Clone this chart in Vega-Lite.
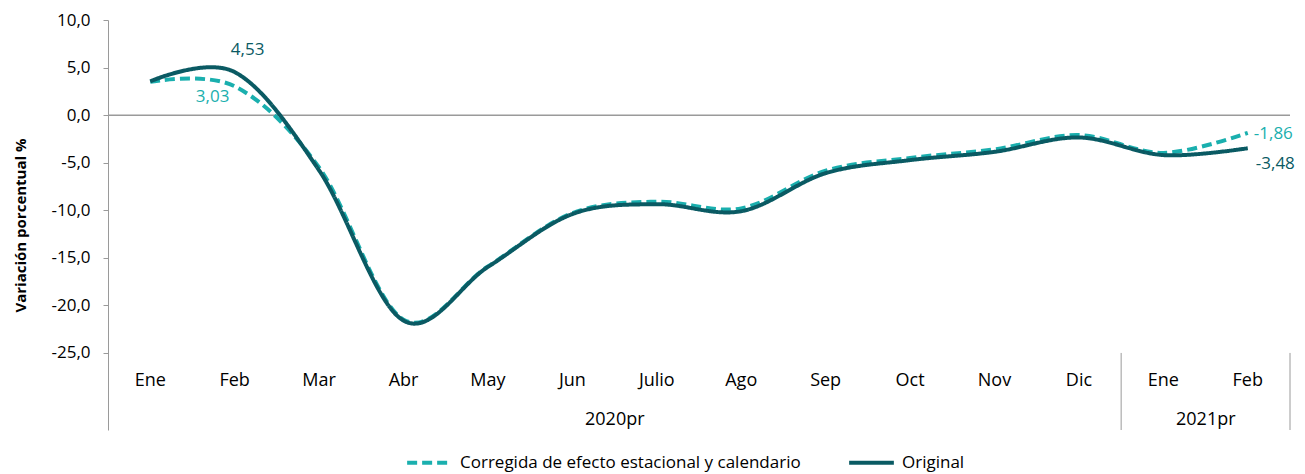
{
  "$schema": "https://vega.github.io/schema/vega-lite/v6.json",
  "width": 1182,
  "height": 410,
  "autosize": "none",
  "padding": {"left": 108, "top": 20, "right": 15, "bottom": 44},
  "config": {
    "view": {"stroke": null},
    "font": "Open Sans"
  },
  "resolve": {"axis": {"y": "independent", "x": "independent"}},
  "data": {
    "values": [
      {"idx": 1, "month": "Ene", "year": "2020pr", "serie": "Corregida de efecto estacional y calendario", "value": 3.5},
      {"idx": 2, "month": "Feb", "year": "2020pr", "serie": "Corregida de efecto estacional y calendario", "value": 3.03},
      {"idx": 3, "month": "Mar", "year": "2020pr", "serie": "Corregida de efecto estacional y calendario", "value": -5.5},
      {"idx": 4, "month": "Abr", "year": "2020pr", "serie": "Corregida de efecto estacional y calendario", "value": -21.5},
      {"idx": 5, "month": "May", "year": "2020pr", "serie": "Corregida de efecto estacional y calendario", "value": -15.9},
      {"idx": 6, "month": "Jun", "year": "2020pr", "serie": "Corregida de efecto estacional y calendario", "value": -10.3},
      {"idx": 7, "month": "Julio", "year": "2020pr", "serie": "Corregida de efecto estacional y calendario", "value": -9.1},
      {"idx": 8, "month": "Ago", "year": "2020pr", "serie": "Corregida de efecto estacional y calendario", "value": -9.8},
      {"idx": 9, "month": "Sep", "year": "2020pr", "serie": "Corregida de efecto estacional y calendario", "value": -5.85},
      {"idx": 10, "month": "Oct", "year": "2020pr", "serie": "Corregida de efecto estacional y calendario", "value": -4.5},
      {"idx": 11, "month": "Nov", "year": "2020pr", "serie": "Corregida de efecto estacional y calendario", "value": -3.6},
      {"idx": 12, "month": "Dic", "year": "2020pr", "serie": "Corregida de efecto estacional y calendario", "value": -2.1},
      {"idx": 13, "month": "Ene", "year": "2021pr", "serie": "Corregida de efecto estacional y calendario", "value": -3.97},
      {"idx": 14, "month": "Feb", "year": "2021pr", "serie": "Corregida de efecto estacional y calendario", "value": -1.86},
      {"idx": 1, "month": "Ene", "year": "2020pr", "serie": "Original", "value": 3.55},
      {"idx": 2, "month": "Feb", "year": "2020pr", "serie": "Original", "value": 4.53},
      {"idx": 3, "month": "Mar", "year": "2020pr", "serie": "Original", "value": -5.8},
      {"idx": 4, "month": "Abr", "year": "2020pr", "serie": "Original", "value": -21.6},
      {"idx": 5, "month": "May", "year": "2020pr", "serie": "Original", "value": -15.95},
      {"idx": 6, "month": "Jun", "year": "2020pr", "serie": "Original", "value": -10.4},
      {"idx": 7, "month": "Julio", "year": "2020pr", "serie": "Original", "value": -9.36},
      {"idx": 8, "month": "Ago", "year": "2020pr", "serie": "Original", "value": -10.1},
      {"idx": 9, "month": "Sep", "year": "2020pr", "serie": "Original", "value": -6.1},
      {"idx": 10, "month": "Oct", "year": "2020pr", "serie": "Original", "value": -4.73},
      {"idx": 11, "month": "Nov", "year": "2020pr", "serie": "Original", "value": -3.86},
      {"idx": 12, "month": "Dic", "year": "2020pr", "serie": "Original", "value": -2.35},
      {"idx": 13, "month": "Ene", "year": "2021pr", "serie": "Original", "value": -4.2},
      {"idx": 14, "month": "Feb", "year": "2021pr", "serie": "Original", "value": -3.48}
    ]
  },
  "layer": [
    {
      "data": {"values": [{"zero": 0}]},
      "mark": {"type": "rule", "color": "#9a9a9a", "strokeWidth": 1.5},
      "encoding": {"y": {"field": "zero", "type": "quantitative", "axis": null}}
    },
    {
      "data": {"values": [{"boundary": 12.5, "top": -25, "bottom": -33.1}, {"boundary": 14.5, "top": -25, "bottom": -33.1}]},
      "mark": {"type": "rule", "color": "#9a9a9a", "strokeWidth": 1},
      "encoding": {
        "x": {"field": "boundary", "type": "quantitative", "axis": null},
        "y": {"field": "top", "type": "quantitative", "axis": null},
        "y2": {"field": "bottom"}
      }
    },
    {
      "mark": {"type": "line", "interpolate": "cardinal", "strokeWidth": 4},
      "encoding": {
        "x": {"field": "idx", "type": "quantitative", "scale": {"domain": [0.5, 14.5], "nice": false, "zero": false}, "axis": null},
        "y": {
          "field": "value", "type": "quantitative",
          "scale": {"domain": [-33.1, 10], "nice": false, "zero": false},
          "axis": {
            "values": [-25, -20, -15, -10, -5, 0, 5, 10],
            "labelExpr": "replace(replace(format(datum.value, '.1f'), '.', ','), '−', '-')",
            "grid": false,
            "domainColor": "#9a9a9a",
            "tickColor": "#9a9a9a",
            "tickSize": 5,
            "labelPadding": 13,
            "labelFontSize": 17,
            "labelColor": "#000000",
            "title": "Variación porcentual %",
            "titleFontSize": 15,
            "titleFontWeight": "bold",
            "titleColor": "#000000",
            "titlePadding": 22
          }
        },
        "color": {
          "field": "serie", "type": "nominal",
          "scale": {"domain": ["Corregida de efecto estacional y calendario", "Original"], "range": ["#1AAFAE", "#0A5A63"]},
          "legend": {
            "title": null,
            "orient": "none",
            "direction": "horizontal",
            "legendX": 297,
            "legendY": 418,
            "symbolType": "stroke",
            "symbolSize": 2000,
            "symbolStrokeWidth": 4,
            "labelFontSize": 17,
            "labelColor": "#000000",
            "labelLimit": 600,
            "columnPadding": 40,
            "labelOffset": 6
          }
        },
        "strokeDash": {
          "field": "serie", "type": "nominal",
          "scale": {"domain": ["Corregida de efecto estacional y calendario", "Original"], "range": [[10, 5], [1, 0]]}
        }
      }
    },
    {
      "transform": [{"filter": "datum.serie == 'Original' && datum.idx == 2"}, {"calculate": "replace(format(datum.value, '.2f'), '.', ',')", "as": "lbl"}],
      "mark": {"type": "text", "fontSize": 17, "color": "#0A5A63", "dx": 13, "dy": -22},
      "encoding": {
        "x": {"field": "idx", "type": "quantitative", "axis": null},
        "y": {"field": "value", "type": "quantitative", "axis": null},
        "text": {"field": "lbl", "type": "nominal"}
      }
    },
    {
      "transform": [{"filter": "datum.serie != 'Original' && datum.idx == 2"}, {"calculate": "replace(format(datum.value, '.2f'), '.', ',')", "as": "lbl"}],
      "mark": {"type": "text", "fontSize": 17, "color": "#1AAFAE", "dx": -22, "dy": 11},
      "encoding": {
        "x": {"field": "idx", "type": "quantitative", "axis": null},
        "y": {"field": "value", "type": "quantitative", "axis": null},
        "text": {"field": "lbl", "type": "nominal"}
      }
    },
    {
      "transform": [{"filter": "datum.serie != 'Original' && datum.idx == 14"}, {"calculate": "replace(replace(format(datum.value, '.2f'), '.', ','), '−', '-')", "as": "lbl"}],
      "mark": {"type": "text", "fontSize": 17, "color": "#1AAFAE", "align": "left", "dx": 6, "dy": 1},
      "encoding": {
        "x": {"field": "idx", "type": "quantitative", "axis": null},
        "y": {"field": "value", "type": "quantitative", "axis": null},
        "text": {"field": "lbl", "type": "nominal"}
      }
    },
    {
      "transform": [{"filter": "datum.serie == 'Original' && datum.idx == 14"}, {"calculate": "replace(replace(format(datum.value, '.2f'), '.', ','), '−', '-')", "as": "lbl"}],
      "mark": {"type": "text", "fontSize": 17, "color": "#0A5A63", "align": "left", "dx": 8, "dy": 16},
      "encoding": {
        "x": {"field": "idx", "type": "quantitative", "axis": null},
        "y": {"field": "value", "type": "quantitative", "axis": null},
        "text": {"field": "lbl", "type": "nominal"}
      }
    },
    {
      "transform": [{"filter": "datum.serie == 'Original'"}],
      "mark": {"type": "text", "fontSize": 18, "color": "#000000"},
      "encoding": {
        "x": {"field": "idx", "type": "quantitative", "axis": null},
        "y": {"datum": -27.95, "type": "quantitative", "axis": null},
        "text": {"field": "month", "type": "nominal"}
      }
    },
    {
      "transform": [{"filter": "datum.serie == 'Original' && (datum.idx == 7 || datum.idx == 14)"}],
      "mark": {"type": "text", "fontSize": 18, "color": "#000000", "dx": -42},
      "encoding": {
        "x": {"field": "idx", "type": "quantitative", "axis": null},
        "y": {"datum": -32.05, "type": "quantitative", "axis": null},
        "text": {"field": "year", "type": "nominal"}
      }
    }
  ]
}
